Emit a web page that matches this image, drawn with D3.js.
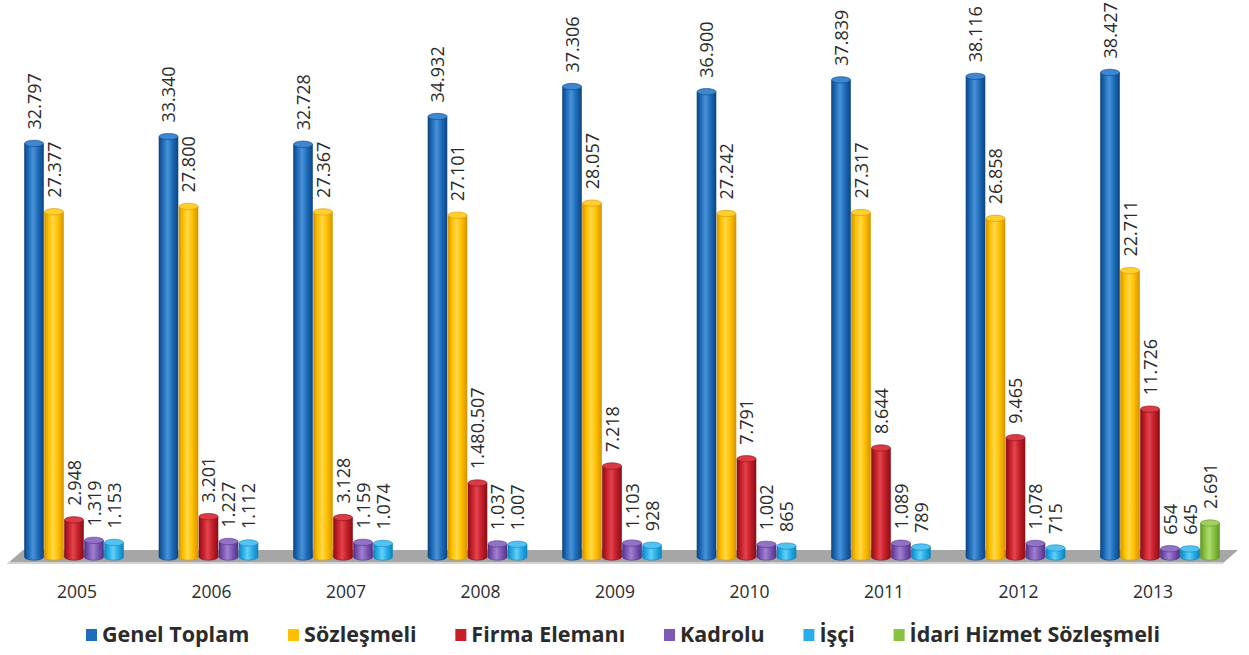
<!DOCTYPE html>
<html lang="tr">
<head>
<meta charset="utf-8">
<title>Personel Sayıları 2005–2013</title>
<script src="https://cdn.jsdelivr.net/npm/d3@7"></script>
<style>
  html, body { margin: 0; padding: 0; background: #ffffff; }
  svg { display: block; }
  text { font-family: "Open Sans", "DejaVu Sans", sans-serif; fill: #2b2b2b; }
</style>
</head>
<body>
<svg id="chart" width="1249" height="655"></svg>
<script>
// ---- data ----
const years = ["2005", "2006", "2007", "2008", "2009", "2010", "2011", "2012", "2013"];
const seriesNames = ["Genel Toplam", "Sözleşmeli", "Firma Elemanı", "Kadrolu", "İşçi", "İdari Hizmet Sözleşmeli"];

const genelToplam   = [32797, 33340, 32728, 34932, 37306, 36900, 37839, 38116, 38427];
const sozlesmeli    = [27377, 27800, 27367, 27101, 28057, 27242, 27317, 26858, 22711];
const firmaElemani  = [2948, 3201, 3128, 5870, 7218, 7791, 8644, 9465, 11726];
const kadrolu       = [1319, 1227, 1159, 1037, 1103, 1002, 1089, 1078, 654];
const isci          = [1153, 1112, 1074, 1007, 928, 865, 789, 715, 645];
const idariHizmet   = [null, null, null, null, null, null, null, null, 2691];

// label printed for Firma Elemanı 2008 in the published table
const firmaElemaniPrinted = [null, null, null, "1.480.507", null, null, null, null, null];

const seriesValues = [genelToplam, sozlesmeli, firmaElemani, kadrolu, isci, idariHizmet];
const seriesPrinted = [null, null, firmaElemaniPrinted, null, null, null];

// ---- styling ----
const palette = [
  { base: "#1f6dba", dark: "#0d4684", light: "#4a92d8", top: "#3d86d0" },
  { base: "#ffc000", dark: "#d69500", light: "#ffd84a", top: "#ffcf2e" },
  { base: "#c61f2a", dark: "#8a0f17", light: "#e2454e", top: "#d93a43" },
  { base: "#7d58b5", dark: "#533287", light: "#a081d0", top: "#9272c6" },
  { base: "#27aee8", dark: "#1184bd", light: "#66cff5", top: "#52c3f0" },
  { base: "#88c240", dark: "#5f9a24", light: "#aedb73", top: "#a0d05f" }
];

const fmt = v => d3.format(",")(v).replace(/,/g, ".");

const svg = d3.select("#chart");
const defs = svg.append("defs");

palette.forEach((c, i) => {
  const g = defs.append("linearGradient")
    .attr("id", "cyl" + i).attr("x1", "0").attr("x2", "1").attr("y1", "0").attr("y2", "0");
  g.append("stop").attr("offset", "0%").attr("stop-color", c.dark);
  g.append("stop").attr("offset", "22%").attr("stop-color", c.base);
  g.append("stop").attr("offset", "45%").attr("stop-color", c.light);
  g.append("stop").attr("offset", "70%").attr("stop-color", c.base);
  g.append("stop").attr("offset", "100%").attr("stop-color", c.dark);
});

// ---- scales ----
const baseY = 557;
const y = d3.scaleLinear().domain([0, 40000]).range([baseY, baseY - 40000 * 0.01261]);
const x0 = d3.scaleBand().domain(years).range([24, 1220]).paddingInner(0.1078).paddingOuter(0);
const x1 = d3.scaleBand().domain(d3.range(seriesNames.length)).range([0, x0.bandwidth()]);

// ---- floor ----
const floorTop = 550, floorBot = 564;
svg.append("polygon")
  .attr("points", [[23, floorTop], [1238, floorTop], [1222, floorBot], [7, floorBot]].join(" "))
  .attr("fill", "#a6a6a6");
svg.append("polygon")
  .attr("points", [[9, floorBot - 2], [1224, floorBot - 2], [1222, floorBot], [7, floorBot]].join(" "))
  .attr("fill", "#d2d2d2");

// ---- bars ----
const bw = x1.bandwidth() - 1;
const ry = 3.2;
const bars = [];
years.forEach((yr, yi) => {
  seriesValues.forEach((arr, si) => {
    const v = arr[yi];
    if (v == null) return;
    const printed = seriesPrinted[si] && seriesPrinted[si][yi];
    bars.push({ yr, si, v, label: printed || fmt(v) });
  });
});

const barG = svg.append("g");
const bar = barG.selectAll("g.bar").data(bars).join("g").attr("class", "bar")
  .attr("transform", d => `translate(${x0(d.yr) + x1(d.si) + 0.5},0)`);

bar.append("ellipse")
  .attr("cx", bw / 2).attr("cy", baseY).attr("rx", bw / 2).attr("ry", ry)
  .attr("fill", d => `url(#cyl${d.si})`)
  .attr("stroke", d => palette[d.si].dark).attr("stroke-width", 0.6);
bar.append("rect")
  .attr("x", 0).attr("width", bw)
  .attr("y", d => y(d.v)).attr("height", d => baseY - y(d.v))
  .attr("fill", d => `url(#cyl${d.si})`);
bar.append("line")
  .attr("x1", 0).attr("x2", 0).attr("y1", d => y(d.v)).attr("y2", baseY)
  .attr("stroke", d => palette[d.si].dark).attr("stroke-width", 0.6);
bar.append("line")
  .attr("x1", bw).attr("x2", bw).attr("y1", d => y(d.v)).attr("y2", baseY)
  .attr("stroke", d => palette[d.si].dark).attr("stroke-width", 0.6);
bar.append("ellipse")
  .attr("cx", bw / 2).attr("cy", d => y(d.v)).attr("rx", bw / 2).attr("ry", ry)
  .attr("fill", d => palette[d.si].top)
  .attr("stroke", d => palette[d.si].dark).attr("stroke-width", 0.6);

// ---- value labels ----
bar.append("text")
  .attr("transform", d => `translate(${bw / 2 + 0.5},${y(d.v) - 14}) rotate(-90)`)
  .attr("dy", "0.35em")
  .attr("text-anchor", "start")
  .style("font-size", "18px")
  .text(d => d.label);

// ---- year axis ----
const xAxis = d3.axisBottom(x0).tickSize(0).tickPadding(0);
const axisG = svg.append("g").attr("transform", "translate(-7,586)").call(xAxis);
axisG.select(".domain").remove();
axisG.selectAll("text")
  .attr("x", 0).attr("dy", "0.35em").attr("y", 6)
  .style("font-size", "17.5px")
  .style("font-family", "'Open Sans', sans-serif")
  .attr("fill", "#2b2b2b");

// ---- legend ----
const legendLeft = 86, legendRight = 1160;
const legend = svg.append("g");
const items = legend.selectAll("g").data(seriesNames).join("g");
items.append("rect")
  .attr("width", 11).attr("height", 12).attr("y", 629)
  .attr("fill", (d, i) => palette[i].base);
items.append("text")
  .attr("x", 16).attr("y", 642)
  .style("font-size", "21.5px").style("font-weight", "700")
  .attr("fill", "#1e1e1e")
  .text(d => d);

const widths = [];
items.each(function () {
  widths.push(16 + d3.select(this).select("text").node().getComputedTextLength());
});
const gap = ((legendRight - legendLeft) - d3.sum(widths)) / (widths.length - 1);
let cursor = legendLeft;
items.attr("transform", (d, i) => {
  const t = `translate(${cursor},0)`;
  cursor += widths[i] + gap;
  return t;
});
</script>
</body>
</html>
